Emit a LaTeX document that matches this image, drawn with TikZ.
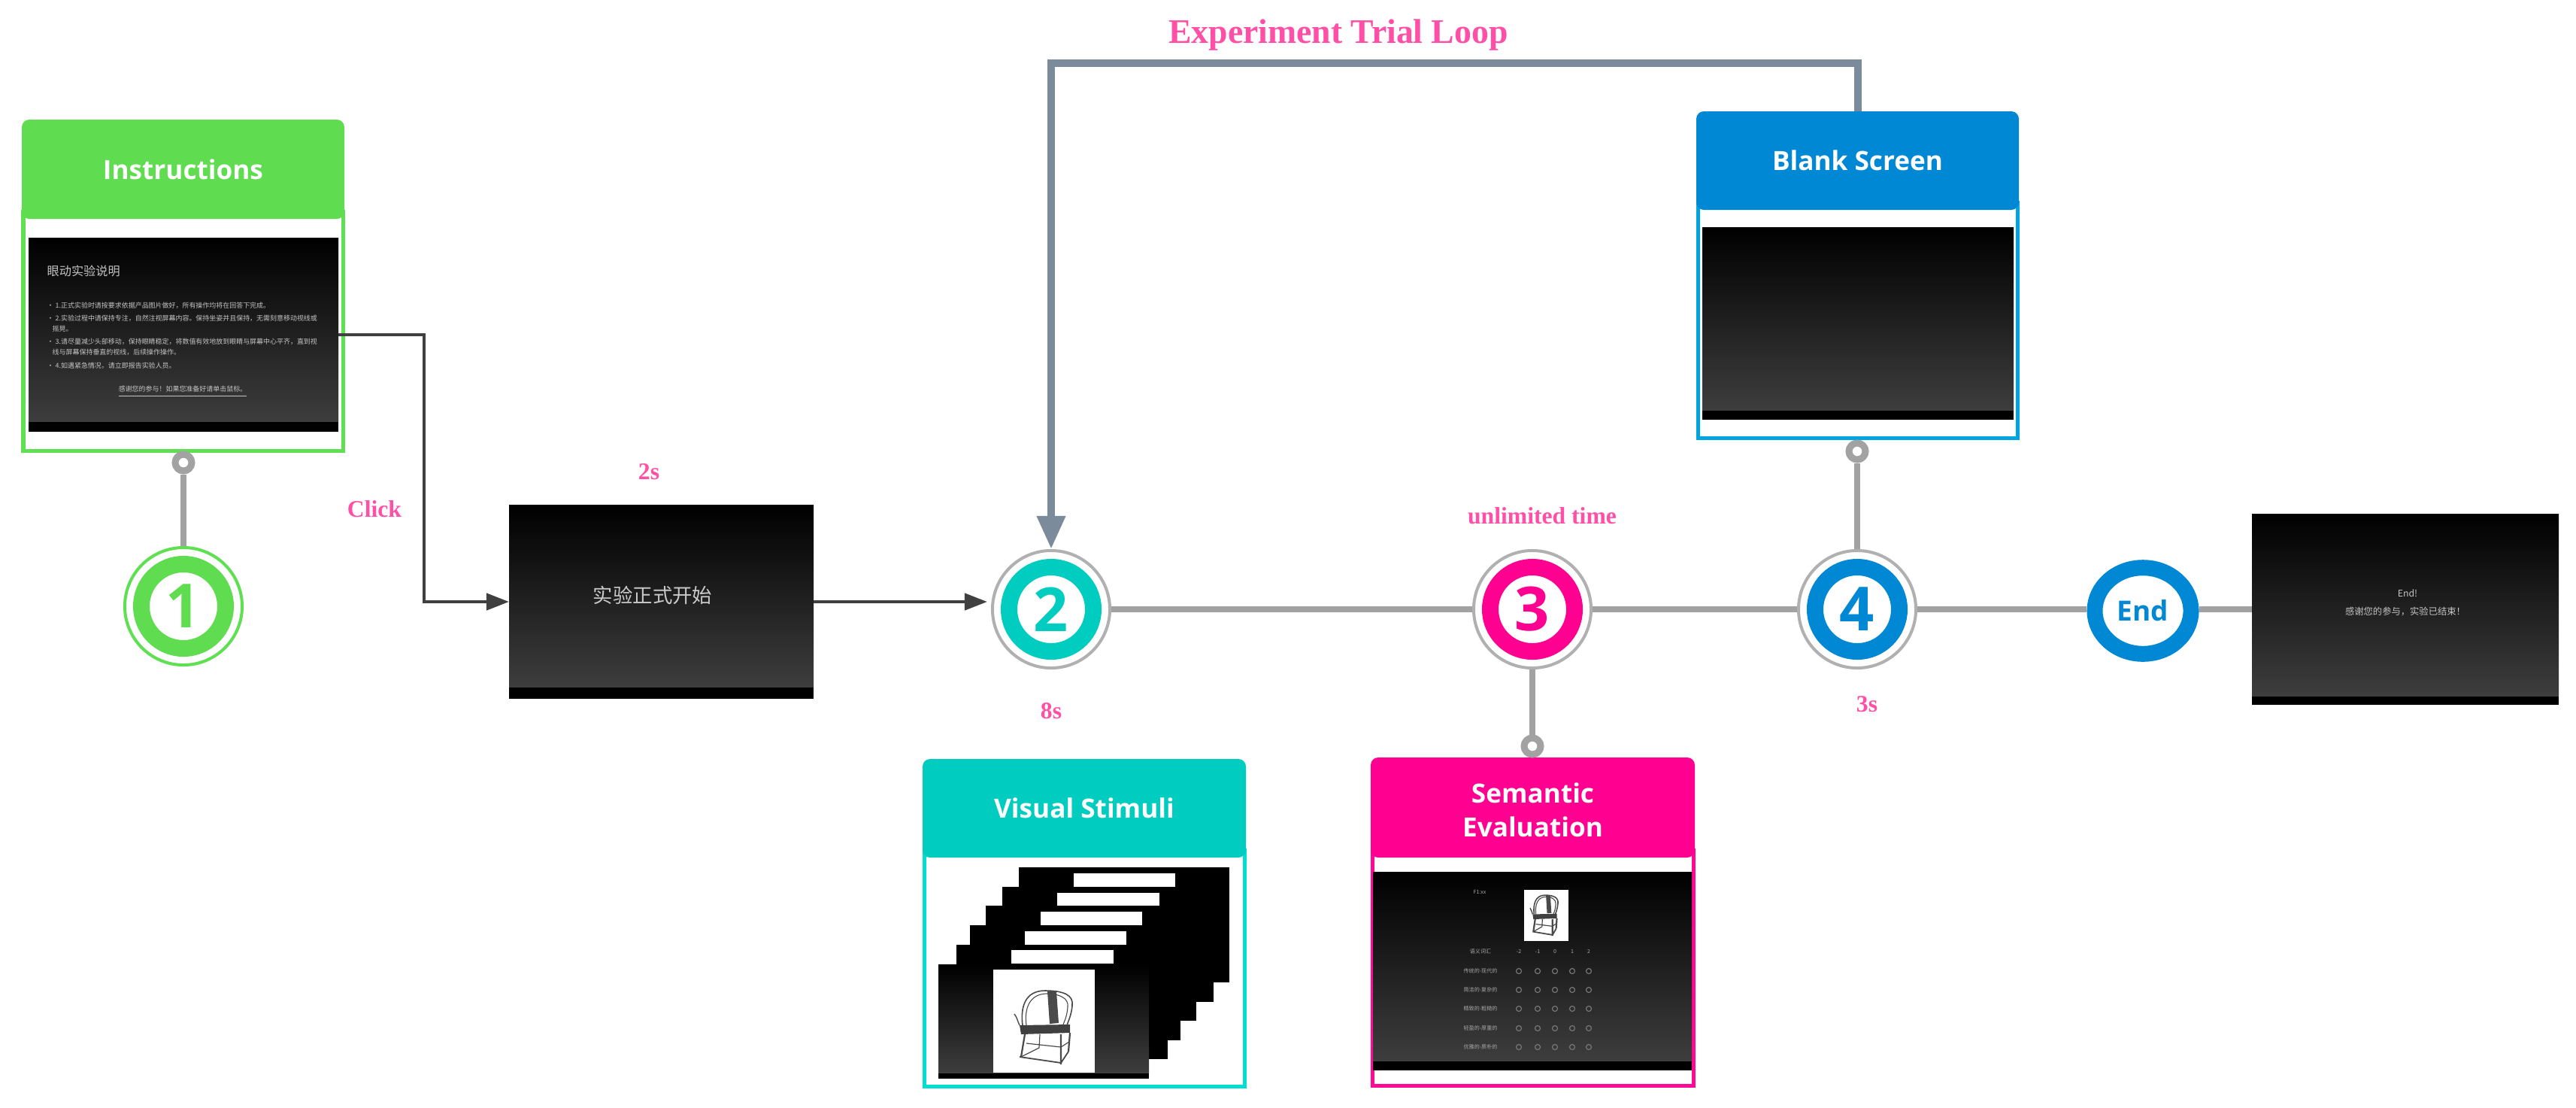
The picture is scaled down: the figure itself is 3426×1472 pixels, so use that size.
\documentclass[tikz,border=0pt]{standalone}
\usepackage{fontspec}
\setmainfont{Liberation Serif}
\newfontfamily\headfont{Open Sans}
\newfontfamily\cjkfont{Noto Sans CJK SC}
\usetikzlibrary{arrows.meta,fit,shapes.geometric}

\definecolor{grassgreen}{HTML}{5FDC50}
\definecolor{grassline}{HTML}{5FE052}
\definecolor{tealhead}{HTML}{00CCBF}
\definecolor{tealline}{HTML}{00DDD2}
\definecolor{rosehead}{HTML}{FF0090}
\definecolor{roseline}{HTML}{FF0A96}
\definecolor{bluehead}{HTML}{0088D4}
\definecolor{blueline}{HTML}{00A5E0}
\definecolor{wiregrey}{HTML}{A2A2A2}
\definecolor{loopslate}{HTML}{7B8B9C}
\definecolor{arrowdark}{HTML}{404040}
\definecolor{notepink}{HTML}{FF4FA6}
\definecolor{slidetext}{HTML}{C4C4C4}
\definecolor{chairdark}{HTML}{4A4A4A}
\definecolor{chairseat}{HTML}{404040}

\tikzset{
  x=0.01cm, y=-0.01cm,
  headtext/.style={font=\headfont\bfseries\fontsize{10}{12.6}\selectfont, text=white, align=center, inner sep=0pt},
  note/.style={font=\bfseries\fontsize{9}{11}\selectfont, text=notepink, inner sep=0pt},
  wire/.style={draw=wiregrey, line width=0.08cm},
  pinhead/.style={circle, draw=wiregrey, fill=white, line width=0.09cm, minimum size=0.22cm, inner sep=0pt},
  halo/.style={circle, draw=wiregrey!85!white, fill=white, line width=0.04cm, minimum size=1.56cm, inner sep=0pt},
  numring/.style={circle, line width=0.22cm, fill=white, minimum size=1.12cm, inner sep=0pt,
    font=\headfont\bfseries\fontsize{23}{24}\selectfont},
  flowarrow/.style={draw=arrowdark, line width=0.045cm, -{Triangle[length=0.3cm,width=0.22cm]}},
  looparrow/.style={draw=loopslate, line width=0.1cm, -{Triangle[length=0.44cm,width=0.36cm]}},
  slideline/.style={font=\cjkfont\fontsize{2.55}{3}\selectfont, text=slidetext, inner sep=0pt, anchor=west},
  tinyline/.style={font=\cjkfont\fontsize{2}{2.5}\selectfont, text=slidetext!85!black, inner sep=0pt},
  pickdot/.style={circle, draw=slidetext!60!black, line width=0.012cm, minimum size=0.07cm, inner sep=0pt},
  whitecard/.style={fill=white},
  blackslide/.style={fill=black},
}

% Dark slide: black ground, grey ramp, solid black strip along the bottom.
% #1 node name, #2 x0, #3 y0, #4 x1, #5 y1, #6 top of the strip
\newcommand{\darkslide}[6]{%
  \fill[black] (#2,#3) rectangle (#4,#5);
  \shade[top color=black, bottom color=black!76!white] (#2,#3) rectangle (#4,#6);
  \node[inner sep=0pt, outer sep=0pt, fit={(#2,#3)(#4,#5)}] (#1) {};
}

% Titled panel: white frame with coloured outline and a coloured rounded title bar.
% #1 node name, #2 x0, #3 y0, #4 x1, #5 y of bar bottom, #6 y1, #7 bar colour, #8 outline colour
\newcommand{\titledpanel}[8]{%
  \draw[#8, line width=0.05cm, fill=white] (#2+2,#5-10) rectangle (#4-2,#6-2);
  \fill[#7, rounded corners=0.1cm] (#2,#3) rectangle (#4,#5);
  \node[inner sep=0pt, outer sep=0pt, fit={(#2,#3)(#4,#5)}] (#1) {};
}

% Armchair line drawing in a 77 by 102 box.
\newcommand{\armchair}{%
  \draw[chairdark, line width=0.016cm]
    (11,48) .. controls (8,24) and (14,2) .. (41,2)
    .. controls (66,2) and (79,8) .. (77,22) .. controls (76,34) and (72,42) .. (70,48);
  \draw[chairdark, line width=0.011cm]
    (16,48) .. controls (13,26) and (20,7) .. (42,6)
    .. controls (60,6) and (73,12) .. (71,24) .. controls (70,36) and (67,42) .. (65,47);
  \draw[chairdark, line width=0.014cm] (0,33) .. controls (4,38) and (4,42) .. (7,48);
  \fill[chairdark] (44,3) -- (56,3) -- (59,45) -- (47,46) -- cycle;
  \fill[chairseat] (7,48) -- (74,47) -- (74,58) -- (9,60) -- cycle;
  \draw[chairdark, line width=0.022cm]
    (14,60) -- (9,90)  (62,60) -- (62,100)  (74,58) -- (72,83);
  \draw[chairdark, line width=0.012cm]
    (34,60) -- (33,78)  (16,72) -- (62,77)  (62,77) -- (73,70)  (9,90) -- (33,78);
  \draw[chairdark, line width=0.018cm] (7,90) -- (62,98)  (62,98) -- (72,83);
}

\begin{document}
\begin{tikzpicture}
\useasboundingbox (0,0) rectangle (3426,1472);
\fill[white] (0,0) rectangle (3426,1472);

% ---------- Instructions panel ----------
\titledpanel{instrhead}{29}{159}{458}{291}{601}{grassgreen}{grassline}
\node[headtext] at (instrhead.center) {Instructions};
\darkslide{instrslide}{38}{316}{450}{574}{560}
\node[slideline, font=\cjkfont\fontsize{4.6}{5}\selectfont] (it0) at (62,360) {眼动实验说明};
\node[slideline] (it1) at (62,406) {• 1.正式实验时请按要求依据产品图片做好，所有操作均将在回答下完成。};
\node[slideline] (it2) at (62,423) {• 2.实验过程中请保持专注，自然注视屏幕内容。保持坐姿并且保持，无需刻意移动视线或};
\node[slideline] (it3) at (69,437) {摇晃。};
\node[slideline] (it4) at (62,454) {• 3.请尽量减少头部移动，保持眼睛稳定，将数值有效地放到眼睛与屏幕中心平齐，直到视};
\node[slideline] (it5) at (69,468) {线与屏幕保持垂直的视线，后续操作操作。};
\node[slideline] (it6) at (62,486) {• 4.如遇紧急情况，请立即报告实验人员。};
\node[slideline, anchor=center] (it7) at (243,521) {\underline{感谢您的参与！如果您准备好请单击鼠标。}};

% ---------- Start slide ----------
\darkslide{startslide}{677}{671}{1082}{929}{913}
\node[font=\cjkfont\fontsize{7.5}{9}\selectfont, text=slidetext!90!white, inner sep=0pt] (starttext) at (868,791) {实验正式开始};

% ---------- Blank screen panel ----------
\titledpanel{blankhead}{2256}{148}{2685}{279}{584}{bluehead}{blueline}
\node[headtext] at (blankhead.center) {Blank Screen};
\darkslide{blankslide}{2264}{302}{2678}{558}{545}

% ---------- Visual stimuli panel ----------
\titledpanel{visualhead}{1227}{1009}{1657}{1140}{1446}{tealhead}{tealline}
\node[headtext] at (visualhead.center) {Visual Stimuli};
\fill[blackslide] (1355,1153) rectangle (1635,1306);
\fill[whitecard]  (1428,1161) rectangle (1563,1179);
\fill[blackslide] (1333,1179) rectangle (1614,1332);
\fill[whitecard]  (1406,1187) rectangle (1542,1205);
\fill[blackslide] (1311,1204) rectangle (1591,1357);
\fill[whitecard]  (1384,1212) rectangle (1519,1230);
\fill[blackslide] (1290,1230) rectangle (1570,1383);
\fill[whitecard]  (1363,1238) rectangle (1498,1256);
\fill[blackslide] (1272,1256) rectangle (1553,1408);
\fill[whitecard]  (1345,1263) rectangle (1481,1281);
\darkslide{stimslide}{1248}{1282}{1528}{1434}{1426}
\fill[whitecard]  (1321,1289) rectangle (1456,1426);
\begin{scope}[shift={(1349,1315)}]
  \armchair
\end{scope}

% ---------- Semantic evaluation panel ----------
\titledpanel{semhead}{1823}{1007}{2254}{1140}{1445}{rosehead}{roseline}
\node[headtext, font=\headfont\bfseries\fontsize{10}{12.9}\selectfont, yshift=-0.03cm] at (semhead.center) {Semantic\\Evaluation};
\darkslide{semslide}{1826}{1159}{2250}{1423}{1410}
\fill[whitecard] (2027,1183) rectangle (2086,1251);
\begin{scope}[shift={(2035,1189)}, xscale=0.48, yscale=0.55]
  \armchair
\end{scope}
\node[tinyline] (sem0) at (1968,1186) {F1:xx};
\node[tinyline] (semh) at (1969,1265) {语义词汇};
\node[tinyline] (semha) at (2020,1265) {-2};
\node[tinyline] (semhb) at (2045,1265) {-1};
\node[tinyline] (semhc) at (2068,1265) {0};
\node[tinyline] (semhd) at (2091,1265) {1};
\node[tinyline] (semhe) at (2113,1265) {2};
\node[tinyline] (sema) at (1969,1291) {传统的-现代的};
\node[tinyline] (semb) at (1969,1316) {简洁的-复杂的};
\node[tinyline] (semc) at (1969,1341) {精致的-粗糙的};
\node[tinyline] (semd) at (1969,1367) {轻盈的-厚重的};
\node[tinyline] (seme) at (1969,1392) {优雅的-质朴的};
\foreach \rowy in {1291,1316,1341,1367,1392}
  \foreach \colx in {2020,2045,2068,2091,2113}
    \node[pickdot] at (\colx,\rowy) {};

% ---------- End slide ----------
\darkslide{endslide}{2995}{683}{3403}{937}{925}
\node[font=\cjkfont\fontsize{3.5}{4}\selectfont, text=slidetext, inner sep=0pt] (endtexta) at (3202,789) {End!};
\node[font=\cjkfont\fontsize{3.5}{4}\selectfont, text=slidetext, inner sep=0pt] (endtextb) at (3199,813) {感谢您的参与，实验已结束！};

% ---------- Timeline markers ----------
\node[circle, draw=grassline, fill=white, line width=0.04cm, minimum size=1.56cm, inner sep=0pt] (haloa) at (244,806) {};
\node[numring, draw=grassgreen, text=grassgreen] (marka) at (244,806) {1};
\node[halo] (c2) at (1398,810) {};
\node[numring, draw=tealhead, text=tealhead] at (1398,810) {2};
\node[halo] (c3) at (2038,810) {};
\node[numring, draw=rosehead, text=rosehead] at (2038,810) {3};
\node[halo] (c4) at (2470,810) {};
\node[numring, draw=bluehead, text=bluehead] at (2470,810) {4};
\node[ellipse, draw=bluehead, fill=white, line width=0.21cm, minimum width=1.28cm, minimum height=1.145cm, inner sep=0pt,
  text=bluehead, font=\headfont\bfseries\fontsize{10.5}{12}\selectfont] (endmark) at (2850,812) {End};

% ---------- Pins joining markers to panels ----------
\node[pinhead] (pina) at (244,615) {};
\node[pinhead] (pinc) at (2038,992) {};
\node[pinhead] (pind) at (2470,600) {};

% ---------- Connectors ----------
\draw[wire] (pina) -- (haloa);
\draw[wire] (c3) -- (pinc);
\draw[wire] (pind) -- (c4);
\draw[wire] (c2) -- (c3);
\draw[wire] (c3) -- (c4);
\draw[wire] (c4) -- (c4 -| endmark.west);
\draw[wire] (c4 -| endmark.east) -- (endslide.west);

\coordinate (clickbend) at (564,622);
\draw[flowarrow] (instrslide.east) -| (clickbend) |- (startslide.west);
\draw[flowarrow, shorten >=0.05cm] (startslide.east) -- (startslide.east -| c2.west);

\coordinate (looptop) at (1398,84);
\draw[looparrow] (blankhead.north) |- (looptop) -- (c2.north);

% ---------- Labels ----------
\node[note, font=\bfseries\fontsize{13}{15}\selectfont] (looplabel) at (1780,46) {Experiment Trial Loop};
\node[note] (clicklabel) at (498,677) {Click};
\node[note] (startlabel) at (863,627) {2s};
\node[note] (stimlabel) at (1398,945) {8s};
\node[note] (evallabel) at (2051,686) {unlimited time};
\node[note] (blanklabel) at (2483,936) {3s};
\end{tikzpicture}
\end{document}
